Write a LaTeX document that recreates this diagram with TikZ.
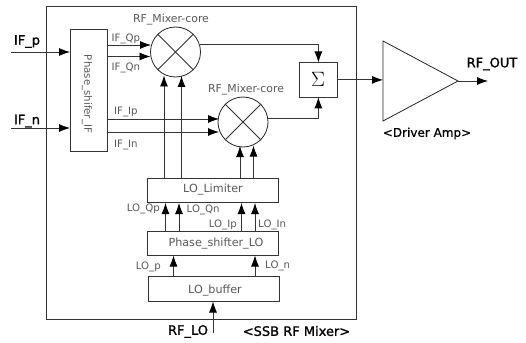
\documentclass[tikz,border=0pt]{standalone}
\usepackage{fontspec}
\setmainfont{DejaVu Sans}
\newfontfamily\bigf[FakeBold=1.2]{DejaVu Sans}
\newfontfamily\medf[FakeBold=0.5]{DejaVu Sans}
\usetikzlibrary{arrows.meta,calc}
\definecolor{lab}{gray}{0.35}
\definecolor{ln}{gray}{0.2}
\tikzset{x=1pt,y=-1pt,
 blk/.style={draw=ln,line width=0.8pt,rectangle,inner sep=0pt,anchor=north west},
 wire/.style={draw=black!80,line width=0.8pt},
 arr/.style={wire,-{Latex[length=11pt,width=8pt,color=black]}},
 sm/.style={text=lab,font=\fontsize{10.2}{11}\selectfont,inner sep=0pt},
 mid/.style={text=lab,font=\fontsize{11.2}{12}\selectfont,inner sep=0pt},
 big/.style={text=black,font=\bigf\fontsize{13}{14}\selectfont,inner sep=0pt},
 bigm/.style={text=black,font=\medf\fontsize{12}{13}\selectfont,inner sep=0pt},
 mix/.style={draw=black!85,line width=0.8pt,circle,minimum size=50pt,inner sep=0pt}}
\begin{document}
\begin{tikzpicture}
\useasboundingbox (0,0) rectangle (526,342);
\fill[white] (0,0) rectangle (526,342);
\node[blk,line width=1pt,minimum width=310pt,minimum height=313pt] (outer) at (46,6) {};
\node[blk,minimum width=37pt,minimum height=122pt] (psif) at (70,29) {};
\node[sm,rotate=-90] (psiflab) at (87,94) {Phase\_shifer\_IF};
\node[mix] (m1) at (175.5,52) {};
\node[mix] (m2) at (243,122) {};
\draw[wire] (m1.north west)--(m1.south east) (m1.north east)--(m1.south west);
\draw[wire] (m2.north west)--(m2.south east) (m2.north east)--(m2.south west);
\node[mid,font=\fontsize{10.9}{12}\selectfont] (m1l) at (171,20) {RF\_Mixer-core};
\node[mid,font=\fontsize{10.9}{12}\selectfont] (m2l) at (246,89.5) {RF\_Mixer-core};
\node[blk,minimum width=38pt,minimum height=34pt] (sig) at (299,62.5) {};
\node[font=\fontsize{20}{22}\selectfont,inner sep=0pt] (sigl) at (318,79.5) {$\Sigma$};
\node[blk,minimum width=131pt,minimum height=24pt] (lim) at (147,178) {};
\node[mid] (liml) at (213,190) {LO\_Limiter};
\node[blk,minimum width=131pt,minimum height=24pt] (pslo) at (147,231) {};
\node[mid] (pslol) at (216,244) {Phase\_shifter\_LO};
\node[blk,minimum width=131pt,minimum height=25pt] (buf) at (148,276) {};
\node[mid] (bufl) at (215,291) {LO\_buffer};
\coordinate (a1) at (383,41); \coordinate (a2) at (383,121); \coordinate (a3) at (458,81);
\draw[draw=black!85,line width=0.8pt] (a1)--(a2)--(a3)--cycle;
% IF inputs
\coordinate (ifp) at (11,52); \coordinate (ifn) at (11,128);
\draw[arr] (ifp)--(psif.north west |- ifp);
\draw[arr] (ifn)--(psif.north west |- ifn);
\node[big] (ifpl) at (27,41.5) {IF\_p};
\node[big] (ifnl) at (27,121) {IF\_n};
% phase shifter IF to mixers
\draw[arr] (107,45)--(151,45);
\draw[arr] (107,56.5)--(150.5,56.5);
\draw[arr] (107,119)--(219,119);
\draw[arr] (107,132)--(219,132);
\node[sm,anchor=west] at (111.5,38.5) {IF\_Qp};
\node[sm,anchor=west] at (111.5,67.5) {IF\_Qn};
\node[sm,anchor=west] at (114,112) {IF\_Ip};
\node[sm,anchor=west] at (114,144.5) {IF\_In};
% limiter to mixers
\draw[arr] (164,178)--(164,75.5);
\draw[arr] (181.5,178)--(181.5,76);
\draw[arr] (240,178)--(240,146);
\draw[arr] (253.5,178)--(253.5,145.5);
% mixers to sum
\coordinate (m1o) at (200,44.5);
\coordinate (m2o) at (267,118);
\draw[arr] (m1o) -| (sig.north);
\draw[arr] (m2o) -| (sig.south);
\draw[arr] (sig.east)--(a1 |- sig.east);
\draw[arr] (a3)--(488,81);
\node[big] (out) at (492,64) {RF\_OUT};
\node[bigm] (drv) at (427,133.5) {<Driver Amp>};
% phase shifter LO to limiter
\draw[arr] (165.5,231)--(165.5,203);
\draw[arr] (179,231)--(179,203);
\draw[arr] (241.5,231)--(241.5,203);
\draw[arr] (255,231)--(255,203);
\node[sm,anchor=east] at (160,209) {LO\_Qp};
\node[sm,anchor=west] at (186.5,209.5) {LO\_Qn};
\node[sm,anchor=east] at (237,225) {LO\_Ip};
\node[sm,anchor=west] at (258,225) {LO\_In};
% buffer to phase shifter
\draw[arr] (173.5,276)--(173.5,255.5);
\draw[arr] (255,276)--(255,255.5);
\node[sm,anchor=east] at (161,267) {LO\_p};
\node[sm,anchor=west] at (265,266) {LO\_n};
% RF_LO
\coordinate (rflo) at (213,333);
\draw[arr] (rflo)--(213,301.5);
\node[big] (rflol) at (188,331.5) {RF\_LO};
\node[big] (ssb) at (296.5,331) {<SSB RF Mixer>};
\end{tikzpicture}
\end{document}
